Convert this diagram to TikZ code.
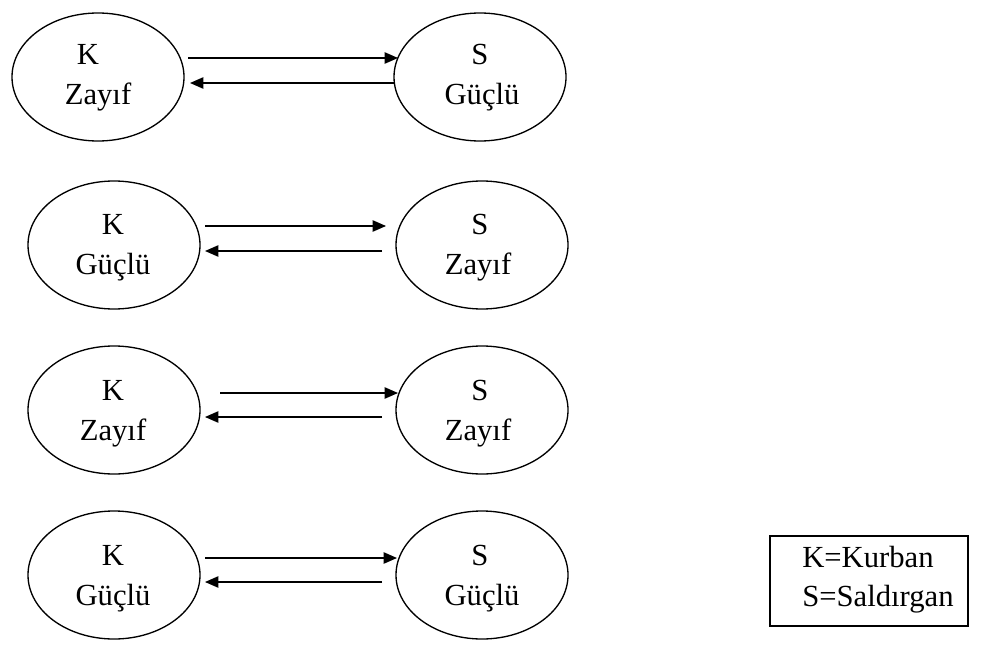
\documentclass[tikz,border=0pt]{standalone}
\usepackage{fontspec}
\setmainfont{Liberation Serif}
\usetikzlibrary{shapes.geometric,arrows.meta}
\begin{document}
\begin{tikzpicture}[x=0.75pt,y=-0.75pt,
  oval/.style={draw,line width=1pt,ellipse,minimum width=129pt,minimum height=96pt,inner sep=0pt},
  lbl/.style={font=\fontsize{23}{27}\selectfont,inner sep=0pt,anchor=base},
  arr/.style={line width=1pt,-{Triangle[length=10pt,width=8.5pt]}}]
\useasboundingbox (0,0) rectangle (994,659);
% row 1
\node[oval] (l1) at (98,77) {};
\node[oval] (r1) at (480,77) {};
\node[lbl] (l1a) at (88,65) {K};
\node[lbl] (l1b) at (98,105) {Zayıf};
\node[lbl] (r1a) at (480,65) {S};
\node[lbl] (r1b) at (482,105) {Güçlü};
\coordinate (a1s) at (188,58); \coordinate (a1e) at (398,58);
\coordinate (b1s) at (395,83); \coordinate (b1e) at (190,83);
\draw[arr] (a1s) -- (a1e);
\draw[arr] (b1s) -- (b1e);
% row 2
\node[oval] (l2) at (114,245) {};
\node[oval] (r2) at (482,245) {};
\node[lbl] (l2a) at (113,234) {K};
\node[lbl] (l2b) at (113,274) {Güçlü};
\node[lbl] (r2a) at (480,234) {S};
\node[lbl] (r2b) at (478,274) {Zayıf};
\coordinate (a2s) at (205,226); \coordinate (a2e) at (386,226);
\coordinate (b2s) at (382,251); \coordinate (b2e) at (205,251);
\draw[arr] (a2s) -- (a2e);
\draw[arr] (b2s) -- (b2e);
% row 3
\node[oval] (l3) at (114,410) {};
\node[oval] (r3) at (482,410) {};
\node[lbl] (l3a) at (113,400) {K};
\node[lbl] (l3b) at (113,440) {Zayıf};
\node[lbl] (r3a) at (480,400) {S};
\node[lbl] (r3b) at (478,440) {Zayıf};
\coordinate (a3s) at (220,393); \coordinate (a3e) at (398,393);
\coordinate (b3s) at (382,417); \coordinate (b3e) at (205,417);
\draw[arr] (a3s) -- (a3e);
\draw[arr] (b3s) -- (b3e);
% row 4
\node[oval] (l4) at (114,575) {};
\node[oval] (r4) at (482,575) {};
\node[lbl] (l4a) at (113,565) {K};
\node[lbl] (l4b) at (113,605) {Güçlü};
\node[lbl] (r4a) at (480,565) {S};
\node[lbl] (r4b) at (482,605) {Güçlü};
\coordinate (a4s) at (205,558); \coordinate (a4e) at (397,558);
\coordinate (b4s) at (382,582); \coordinate (b4e) at (205,582);
\draw[arr] (a4s) -- (a4e);
\draw[arr] (b4s) -- (b4e);
% legend
\node[draw,line width=1pt,minimum width=148.5pt,minimum height=67.5pt,inner sep=0pt] (leg) at (869,581) {};
\node[lbl,anchor=base west] (leg1) at (802,567) {K=Kurban};
\node[lbl,anchor=base west] (leg2) at (802,606) {S=Saldırgan};
\end{tikzpicture}
\end{document}
